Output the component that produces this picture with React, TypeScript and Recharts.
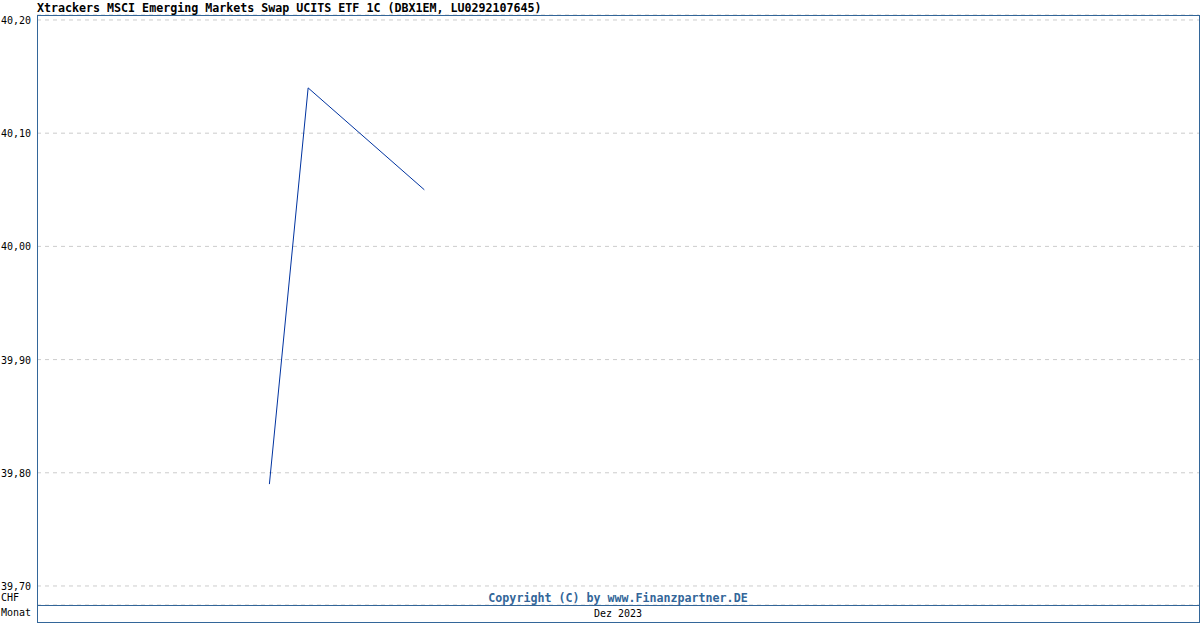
import React from "react";
import { LineChart, Line, XAxis, YAxis, CartesianGrid } from "recharts";

const title = "Xtrackers MSCI Emerging Markets Swap UCITS ETF 1C (DBX1EM, LU0292107645)";
const days = [7, 8, 11];
const prices = [39.79, 40.14, 40.05];
const yTicks = [39.7, 39.8, 39.9, 40.0, 40.1, 40.2];
const monthLabel = "Dez 2023";
const currency = "CHF";
const periodLabel = "Monat";
const copyright = "Copyright (C) by www.Finanzpartner.DE";

const data = days.map((d, i) => ({ day: d, price: prices[i] }));

const FONT = "'DejaVu Sans Mono', 'Liberation Mono', monospace";
const FRAME = "#336699";

const fmt = (v: number) => v.toFixed(2).replace(".", ",");

const YTick = (props: any) => {
  const { y, payload } = props;
  return (
    <text x={1} y={y + 4} fontFamily={FONT} fontSize={10} fill="#000" textAnchor="start">
      {fmt(payload.value)}
    </text>
  );
};

export default function App() {
  return (
    <div style={{ position: "absolute", left: 0, top: 0, width: 1200, height: 630, background: "#fff" }}>
      <LineChart
        width={1200}
        height={630}
        data={data}
        margin={{ top: 15, right: 1, bottom: 25, left: 0 }}
      >
        <CartesianGrid
          horizontal={true}
          vertical={false}
          stroke="#cccccc"
          strokeDasharray="4 4"
        />
        <XAxis dataKey="day" type="number" domain={[1, 31]} hide />
        <YAxis
          type="number"
          width={37}
          domain={[39.6832, 40.2044]}
          ticks={yTicks}
          tick={<YTick />}
          axisLine={false}
          tickLine={false}
          allowDataOverflow
        />
        <Line
          type="linear"
          dataKey="price"
          stroke="#0033a0"
          strokeWidth={1}
          dot={false}
          isAnimationActive={false}
        />
      </LineChart>
      {/* frame */}
      <div style={{ position: "absolute", left: 37, top: 15, width: 1161, height: 606, border: `1px solid ${FRAME}` }} />
      <div style={{ position: "absolute", left: 37, top: 605, width: 1162, height: 1, background: FRAME }} />
      <div style={{ position: "absolute", left: 37, top: 2, fontFamily: FONT, fontSize: 11.65, fontWeight: "bold", color: "#000", whiteSpace: "nowrap", lineHeight: "12px" }}>
        {title}
      </div>
      <div style={{ position: "absolute", left: 1, top: 592, fontFamily: FONT, fontSize: 10, color: "#000", lineHeight: "12px" }}>
        {currency}
      </div>
      <div style={{ position: "absolute", left: 1, top: 607, fontFamily: FONT, fontSize: 10, color: "#000", lineHeight: "12px" }}>
        {periodLabel}
      </div>
      <div style={{ position: "absolute", left: 37, width: 1162, top: 592, textAlign: "center", fontFamily: FONT, fontSize: 11.65, fontWeight: "bold", color: FRAME, lineHeight: "12px", whiteSpace: "nowrap" }}>
        {copyright}
      </div>
      <div style={{ position: "absolute", left: 37, width: 1162, top: 608, textAlign: "center", fontFamily: FONT, fontSize: 10, color: "#000", lineHeight: "12px" }}>
        {monthLabel}
      </div>
    </div>
  );
}
